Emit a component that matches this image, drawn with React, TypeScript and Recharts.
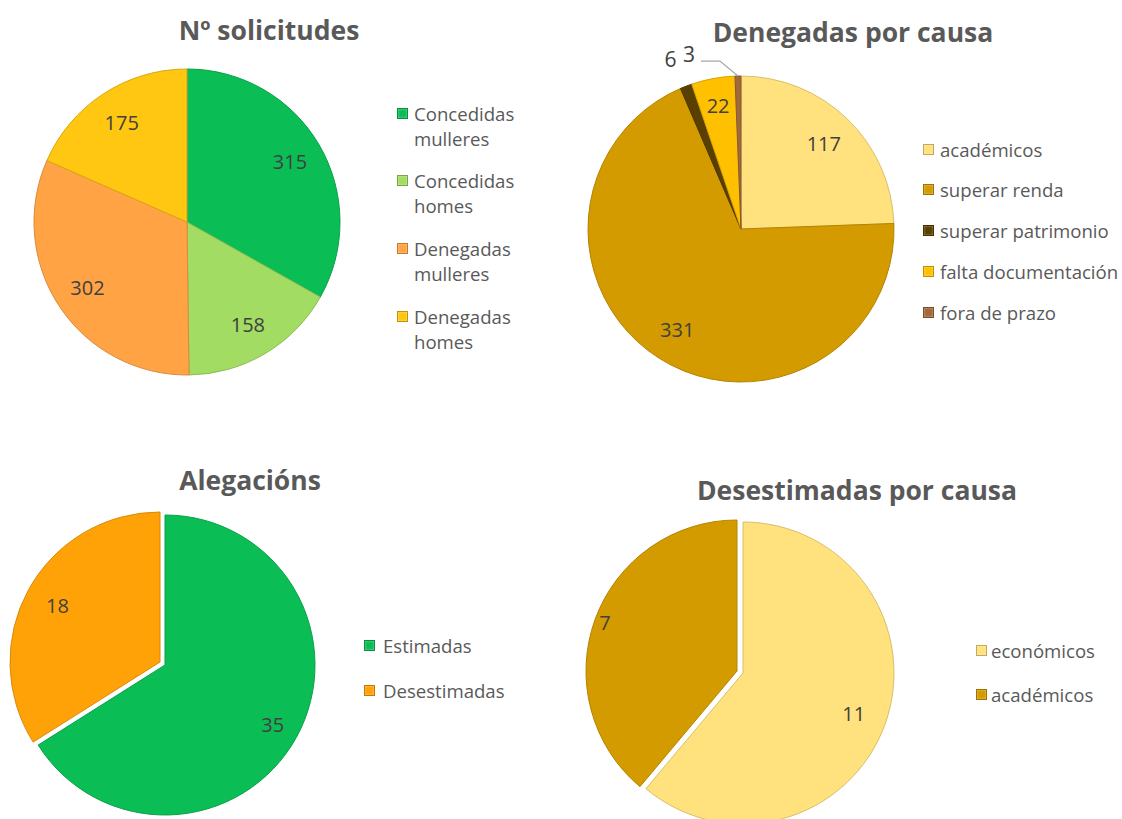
import React from 'react';
import { PieChart, Pie, Cell } from 'recharts';

const solicitudesCats = ['Concedidas mulleres', 'Concedidas homes', 'Denegadas mulleres', 'Denegadas homes'];
const solicitudesValues = [315, 158, 302, 175];
const solicitudesColors = ['#0BBD55', '#A2DC62', '#FFA345', '#FFC612'];

const denegadasCats = ['académicos', 'superar renda', 'superar patrimonio', 'falta documentación', 'fora de prazo'];
const denegadasValues = [117, 331, 6, 22, 3];
const denegadasColors = ['#FFE17D', '#D39B00', '#5A4000', '#FFC000', '#A0693B'];

const alegacionsCats = ['Estimadas', 'Desestimadas'];
const alegacionsValues = [35, 18];
const alegacionsColors = ['#0BBD55', '#FFA208'];

const desestimadasCats = ['económicos', 'académicos'];
const desestimadasValues = [11, 7];
const desestimadasColors = ['#FFE17D', '#D39B00'];

const FONT = '"Open Sans", Lato, sans-serif';
const RAD = Math.PI / 180;

const toData = (cats: string[], vals: number[]) => cats.map((name, i) => ({ name, value: vals[i] }));

const solicitudesData = toData(solicitudesCats, solicitudesValues);
const denegadasData = toData(denegadasCats, denegadasValues);
const alegacionsData = toData(alegacionsCats, alegacionsValues);
const desestimadasData = toData(desestimadasCats, desestimadasValues);

function darken(hex: string, f: number) {
  const n = parseInt(hex.slice(1), 16);
  const r = Math.round(((n >> 16) & 255) * f);
  const g = Math.round(((n >> 8) & 255) * f);
  const b = Math.round((n & 255) * f);
  return `rgb(${r},${g},${b})`;
}

const LABEL_SIZE = 20;

const makeLabel = (factors: number[], visible: boolean[]) => (props: any) => {
  const { cx, cy, midAngle, outerRadius, value, index } = props;
  if (!visible[index]) return null;
  const r = outerRadius * factors[index];
  const x = cx + r * Math.cos(-midAngle * RAD);
  const y = cy + r * Math.sin(-midAngle * RAD);
  return (
    <text x={x} y={y} textAnchor="middle" dominantBaseline="central" fill="#404040" fontSize={LABEL_SIZE} fontFamily={FONT}>
      {value}
    </text>
  );
};

const denegadasLabel = (props: any) => {
  const { cx, cy, midAngle, outerRadius, value, index } = props;
  const cos = Math.cos(-midAngle * RAD);
  const sin = Math.sin(-midAngle * RAD);
  if (index === 4) {
    const px = cx + outerRadius * cos;
    const py = cy + outerRadius * sin;
    const ex = px - 18;
    const ey = py - 15;
    const lx = ex - 19;
    return (
      <g>
        <polyline points={`${px},${py} ${ex},${ey} ${lx},${ey}`} fill="none" stroke="#A6A6A6" strokeWidth={1.2} />
        <text x={lx - 12} y={ey - 7} textAnchor="middle" dominantBaseline="central" fill="#404040" fontSize={LABEL_SIZE + 1} fontFamily={FONT}>
          {value}
        </text>
      </g>
    );
  }
  if (index === 2) {
    const r = outerRadius * 1.19;
    return (
      <text x={cx + r * cos - 5} y={cy + r * sin} textAnchor="middle" dominantBaseline="central" fill="#404040" fontSize={LABEL_SIZE + 1} fontFamily={FONT}>
        {value}
      </text>
    );
  }
  const f = index === 3 ? 0.82 : 0.78;
  return (
    <text x={cx + outerRadius * f * cos} y={cy + outerRadius * f * sin} textAnchor="middle" dominantBaseline="central" fill="#404040" fontSize={LABEL_SIZE} fontFamily={FONT}>
      {value}
    </text>
  );
};

const Title = ({ text, x, y }: { text: string; x: number; y: number }) => (
  <div
    style={{
      position: 'absolute',
      left: x - 200,
      top: y - 18,
      width: 400,
      height: 36,
      lineHeight: '36px',
      textAlign: 'center',
      fontFamily: FONT,
      fontWeight: 700,
      fontSize: 26.5,
      color: '#595959',
      whiteSpace: 'nowrap',
    }}
  >
    {text}
  </div>
);

const Marker = ({ color }: { color: string }) => (
  <span
    style={{
      display: 'inline-block',
      width: 9,
      height: 9,
      background: color,
      border: `1px solid ${darken(color, 0.75)}`,
      boxShadow: 'inset 0 0 2px rgba(255,255,255,0.6)',
    }}
  />
);

const LegendItem = ({ color, label, x, y, width, textX }: any) => (
  <div style={{ position: 'absolute', left: x, top: y - 12, display: 'flex', alignItems: 'flex-start' }}>
    <div style={{ height: 24, display: 'flex', alignItems: 'center' }}>
      <Marker color={color} />
    </div>
    <div
      style={{
        marginLeft: textX - x - 11,
        width: width,
        fontFamily: FONT,
        fontSize: 18.6,
        lineHeight: '25px',
        marginTop: -0.5,
        color: '#595959',
        whiteSpace: 'normal',
      }}
    >
      {label}
    </div>
  </div>
);

const MARGIN = { top: 0, right: 0, bottom: 0, left: 0 };

export default function App() {
  return (
    <div style={{ position: 'absolute', left: 0, top: 0, width: 1122, height: 819, background: '#ffffff', overflow: 'hidden' }}>
      <PieChart width={1122} height={819} margin={MARGIN} style={{ position: 'absolute', left: 0, top: 0 }}>
        <Pie
          data={solicitudesData}
          dataKey="value"
          nameKey="name"
          cx={187}
          cy={222}
          outerRadius={153}
          startAngle={90}
          endAngle={-270}
          isAnimationActive={false}
          labelLine={false}
          label={makeLabel([0.78, 0.78, 0.78, 0.78], [true, true, true, true])}
        >
          {solicitudesData.map((d, i) => (
            <Cell key={d.name} fill={solicitudesColors[i]} stroke={darken(solicitudesColors[i], 0.85)} strokeWidth={1} />
          ))}
        </Pie>
        <Pie
          data={denegadasData}
          dataKey="value"
          nameKey="name"
          cx={741}
          cy={229}
          outerRadius={153}
          startAngle={90}
          endAngle={-270}
          isAnimationActive={false}
          labelLine={false}
          label={denegadasLabel}
        >
          {denegadasData.map((d, i) => (
            <Cell key={d.name} fill={denegadasColors[i]} stroke={darken(denegadasColors[i], 0.85)} strokeWidth={1} />
          ))}
        </Pie>
        <Pie
          data={alegacionsData}
          dataKey="value"
          nameKey="name"
          cx={165}
          cy={665}
          outerRadius={150}
          startAngle={90}
          endAngle={-270}
          isAnimationActive={false}
          labelLine={false}
          label={makeLabel([0.82, 0.78], [true, false])}
        >
          {alegacionsData.map((d, i) => (
            <Cell key={d.name} fill={i === 0 ? alegacionsColors[i] : 'none'} stroke={i === 0 ? darken(alegacionsColors[i], 0.85) : 'none'} strokeWidth={1} />
          ))}
        </Pie>
        <Pie
          data={alegacionsData}
          dataKey="value"
          nameKey="name"
          cx={160}
          cy={662}
          outerRadius={150}
          startAngle={90}
          endAngle={-270}
          isAnimationActive={false}
          labelLine={false}
          label={makeLabel([0.82, 0.78], [false, true])}
        >
          {alegacionsData.map((d, i) => (
            <Cell key={d.name} fill={i === 1 ? alegacionsColors[i] : 'none'} stroke={i === 1 ? darken(alegacionsColors[i], 0.85) : 'none'} strokeWidth={1} />
          ))}
        </Pie>
        <Pie
          data={desestimadasData}
          dataKey="value"
          nameKey="name"
          cx={743}
          cy={673}
          outerRadius={151}
          startAngle={90}
          endAngle={-270}
          isAnimationActive={false}
          labelLine={false}
          label={makeLabel([0.78, 0.93], [true, false])}
        >
          {desestimadasData.map((d, i) => (
            <Cell key={d.name} fill={i === 0 ? desestimadasColors[i] : 'none'} stroke={i === 0 ? darken(desestimadasColors[i], 0.85) : 'none'} strokeWidth={1} />
          ))}
        </Pie>
        <Pie
          data={desestimadasData}
          dataKey="value"
          nameKey="name"
          cx={737}
          cy={671}
          outerRadius={151}
          startAngle={90}
          endAngle={-270}
          isAnimationActive={false}
          labelLine={false}
          label={makeLabel([0.78, 0.93], [false, true])}
        >
          {desestimadasData.map((d, i) => (
            <Cell key={d.name} fill={i === 1 ? desestimadasColors[i] : 'none'} stroke={i === 1 ? darken(desestimadasColors[i], 0.85) : 'none'} strokeWidth={1} />
          ))}
        </Pie>
      </PieChart>

      <Title text="Nº solicitudes" x={269} y={30} />
      <Title text="Denegadas por causa" x={853} y={32} />
      <Title text="Alegacións" x={250} y={480} />
      <Title text="Desestimadas por causa" x={857} y={490} />

      {solicitudesCats.map((c, i) => (
        <LegendItem key={c} color={solicitudesColors[i]} label={c} x={397} textX={414} y={113 + i * 67.7} width={112} />
      ))}
      {denegadasCats.map((c, i) => (
        <LegendItem key={c} color={denegadasColors[i]} label={c} x={923} textX={940} y={149 + i * 40.8} width={190} />
      ))}
      {alegacionsCats.map((c, i) => (
        <LegendItem key={c} color={alegacionsColors[i]} label={c} x={364} textX={383} y={645 + i * 45} width={150} />
      ))}
      {desestimadasCats.map((c, i) => (
        <LegendItem key={c} color={desestimadasColors[i]} label={c} x={976} textX={991} y={650 + i * 44} width={130} />
      ))}
    </div>
  );
}
